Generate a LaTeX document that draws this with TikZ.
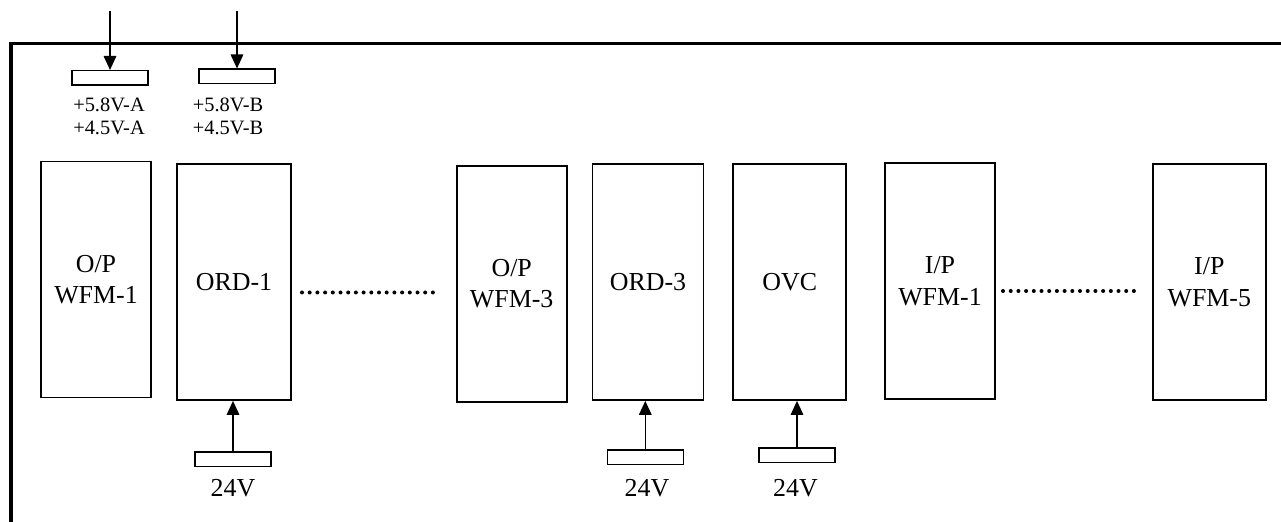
\documentclass[tikz,border=0pt]{standalone}
\usepackage{fontspec}
\setmainfont{Liberation Serif}
\usetikzlibrary{arrows.meta,positioning,calc}

\begin{document}
\begin{tikzpicture}[x=1bp,y=-1bp,
  card/.style={draw,line width=1.7bp,minimum width=110bp,minimum height=236bp,inner sep=0pt,align=center,font=\fontsize{26}{31.5}\selectfont},
  supply/.style={draw,line width=1.5bp,minimum width=76bp,minimum height=14.5bp,inner sep=0pt},
  feed/.style={-{Triangle[width=12.5bp,length=14bp]},line width=1.5bp},
  vlabel/.style={align=center,font=\fontsize{20.5}{23}\selectfont,inner sep=0pt},
  vbig/.style={font=\fontsize{26}{31.5}\selectfont,inner sep=0pt},
  dotrow/.style={line width=4bp,line cap=round,dash pattern=on 0bp off 7.7bp}]
\useasboundingbox (0,0) rectangle (1281,522);
% rack frame
\draw[line width=3.5bp] (11,530) |- (1290,43.5);
% cards
\node[card] (opw1) at (96,279.5) {O/P\\WFM-1};
\node[card,minimum width=114bp] (ord1) at (234,282) {ORD-1};
\node[card] (opw3) at (511.7,283.7) {O/P\\WFM-3};
\node[card,minimum width=111bp] (ord3) at (648,282) {ORD-3};
\node[card,minimum width=113bp] (ovc) at (789.7,282) {OVC};
\node[card] (ipw1) at (940,281.3) {I/P\\WFM-1};
\node[card,minimum width=113bp] (ipw5) at (1209.3,282) {I/P\\WFM-5};
% supply connectors
\node[supply] (psA) at (110,78) {};
\node[supply] (psB) at (237,76.5) {};
\node[supply] (ps1) at (233,459) {};
\node[supply] (ps3) at (645.3,457) {};
\node[supply] (ps5) at (797,455) {};
\node[vlabel] (lblA) at (109,116.8) {+5.8V-A\\+4.5V-A};
\node[vlabel] (lblB) at (228,116.8) {+5.8V-B\\+4.5V-B};
\node[vbig] (v1) at (233,488.5) {24V};
\node[vbig] (v3) at (647,488.5) {24V};
\node[vbig] (v5) at (795.5,488.5) {24V};
% feeds
\coordinate (inA) at ($(psA.north)+(0,-59)$);
\coordinate (inB) at ($(psB.north)+(0,-57)$);
\draw[feed] (inA) -- (psA.north);
\draw[feed] (inB) -- (psB.north);
\draw[feed] (ps1.north) -- (ps1.north |- ord1.south);
\draw[feed] (ps3.north) -- (ps3.north |- ord3.south);
\draw[feed] (ps5.north) -- (ps5.north |- ovc.south);
% omitted slots
\coordinate (gapL1) at (302,292.5);
\coordinate (gapR1) at (433,292.5);
\coordinate (gapL2) at (1003,291);
\coordinate (gapR2) at (1134,291);
\draw[dotrow] (gapL1) -- (gapR1);
\draw[dotrow] (gapL2) -- (gapR2);
\end{tikzpicture}
\end{document}
